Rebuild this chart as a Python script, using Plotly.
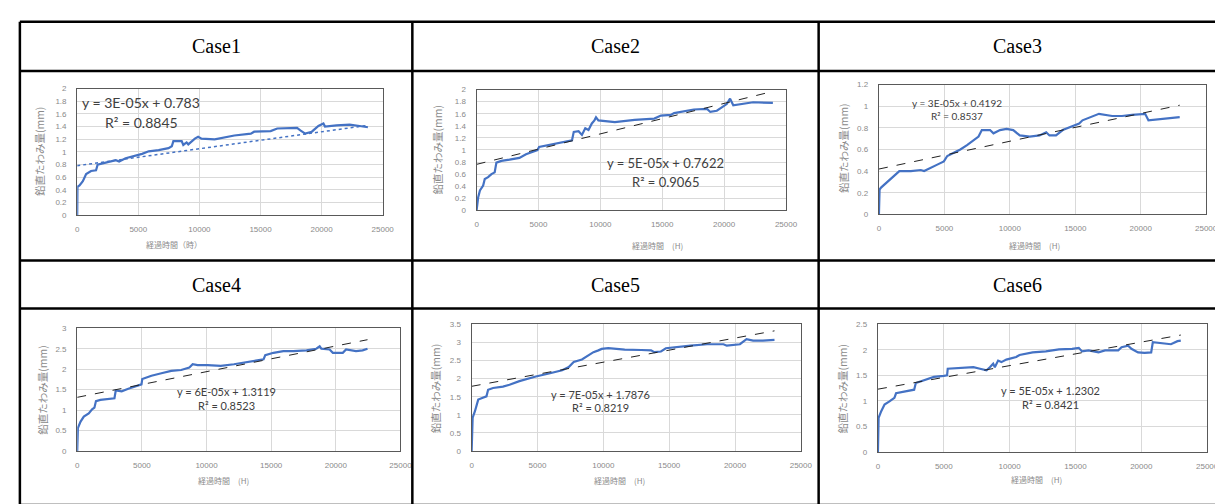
import plotly.graph_objects as go

W, H = 1223, 504

# ---------------- data (hours, mm) ----------------
case_names = ["Case1", "Case2", "Case3", "Case4", "Case5", "Case6"]

t1 = [0, 20, 190, 460, 730, 1130, 1540, 1670, 2080, 2620, 3160, 3430, 3960, 5310, 5850, 6660, 7470, 7740,
      7870, 8550, 8680, 8950, 9090, 9630, 9900, 10170, 11250, 12860, 14210, 14480, 15830, 16370, 17990,
      18260, 18660, 19200, 19740, 20150, 20280, 21220, 22300, 23110, 23790]
d1 = [0, 0.45, 0.47, 0.54, 0.65, 0.70, 0.71, 0.80, 0.82, 0.84, 0.87, 0.85, 0.90, 0.97, 1.01, 1.03, 1.06, 1.09,
      1.17, 1.17, 1.11, 1.15, 1.12, 1.21, 1.24, 1.21, 1.20, 1.26, 1.29, 1.32, 1.33, 1.37, 1.38,
      1.34, 1.29, 1.32, 1.41, 1.45, 1.40, 1.42, 1.43, 1.41, 1.39]

t2 = [0, 130, 270, 530, 660, 930, 1200, 1460, 1600, 2000, 2660, 3190, 3460, 3990, 4920, 5050, 5850, 6650,
      7180, 7710, 7850, 8240, 8510, 8780, 9040, 9310, 9520, 9650, 9840, 11170, 12770, 14360, 14890, 15690,
      15960, 17550, 18620, 18880, 19410, 20210, 20480, 20740, 22340, 23940]
d2 = [0, 0.22, 0.33, 0.41, 0.52, 0.55, 0.60, 0.63, 0.79, 0.82, 0.84, 0.86, 0.87, 0.93, 1.00, 1.05, 1.08, 1.12,
      1.14, 1.16, 1.30, 1.31, 1.25, 1.36, 1.33, 1.44, 1.49, 1.54, 1.49, 1.46, 1.50, 1.52, 1.57, 1.58,
      1.61, 1.67, 1.68, 1.63, 1.65, 1.76, 1.85, 1.74, 1.79, 1.78]

t3 = [0, 50, 180, 550, 930, 1310, 1560, 2440, 3200, 3450, 3830, 4460, 4960, 5220, 5720, 6220, 6730, 7230,
      7610, 7860, 8490, 8750, 9250, 9750, 10260, 10760, 11520, 12270, 12780, 13030, 13530, 14040, 14670,
      15300, 15550, 16310, 16810, 17820, 18570, 19330, 20340, 20590, 21600, 22350, 22980]
d3 = [0, 0.23, 0.25, 0.29, 0.34, 0.38, 0.40, 0.40, 0.41, 0.40, 0.42, 0.46, 0.49, 0.54, 0.57, 0.60, 0.64, 0.69,
      0.72, 0.78, 0.78, 0.75, 0.78, 0.79, 0.78, 0.73, 0.72, 0.73, 0.76, 0.73, 0.73, 0.78, 0.81,
      0.84, 0.87, 0.91, 0.93, 0.91, 0.91, 0.92, 0.93, 0.87, 0.88, 0.89, 0.90]

t4 = [0, 50, 260, 510, 890, 1150, 1330, 1450, 1790, 2680, 2880, 2980, 3440, 3950, 4590, 4970, 5030, 5740,
      6510, 7270, 8040, 8670, 8930, 9310, 10080, 11100, 12120, 13650, 14410, 14540, 15180, 15940, 16710,
      17730, 18490, 18750, 18880, 19520, 19770, 20540, 20790, 21560, 22070, 22450]
d4 = [0, 0.56, 0.72, 0.84, 0.92, 1.02, 1.06, 1.22, 1.25, 1.27, 1.29, 1.48, 1.46, 1.52, 1.58, 1.63, 1.76, 1.84,
      1.90, 1.96, 1.98, 2.04, 2.12, 2.10, 2.10, 2.08, 2.12, 2.20, 2.24, 2.34, 2.40, 2.44, 2.44,
      2.46, 2.50, 2.56, 2.50, 2.48, 2.40, 2.40, 2.48, 2.44, 2.46, 2.50]

t5 = [0, 75, 250, 375, 500, 750, 1125, 1250, 1625, 2375, 2875, 3625, 4875, 5875, 6875, 7375, 7750, 8375,
      8875, 9250, 9625, 9875, 10375, 11625, 12875, 13625, 13875, 14375, 14750, 15375, 16625, 17875, 19125,
      19375, 20375, 20875, 21375, 22125, 23000]
d5 = [0, 0.92, 1.10, 1.28, 1.42, 1.46, 1.51, 1.69, 1.74, 1.78, 1.83, 1.93, 2.06, 2.14, 2.23, 2.32, 2.46, 2.53,
      2.64, 2.73, 2.78, 2.82, 2.84, 2.80, 2.79, 2.78, 2.73, 2.75, 2.84, 2.87, 2.91, 2.95, 2.95,
      2.91, 2.95, 3.09, 3.05, 3.05, 3.07]

t6 = [0, 50, 250, 500, 875, 1250, 1375, 1750, 2500, 2750, 2875, 3500, 4250, 5000, 5250, 5300, 6250, 7250,
      7750, 8250, 8500, 8750, 8875, 9125, 9375, 9750, 10500, 10750, 11750, 12750, 13750, 14750, 15250,
      15500, 16000, 16750, 17250, 18250, 18500, 19000, 19250, 19750, 20250, 20750, 20875, 21500, 22250,
      22750, 23000]
d6 = [0, 0.67, 0.80, 0.93, 0.99, 1.06, 1.15, 1.17, 1.20, 1.22, 1.35, 1.41, 1.47, 1.49, 1.50, 1.63, 1.64, 1.66,
      1.63, 1.60, 1.66, 1.73, 1.66, 1.79, 1.76, 1.81, 1.86, 1.90, 1.95, 1.97, 2.01, 2.02, 2.04,
      1.97, 1.99, 1.95, 1.99, 1.99, 2.05, 2.08, 2.02, 1.95, 1.94, 1.95, 2.15, 2.13, 2.11,
      2.17, 2.18]

# linear trendlines: [x_start, x_end], [y_start, y_end]
trend_x = [[0, 23790], [0, 23940], [0, 22980], [0, 22450], [0, 23000], [0, 23000]]
trend_y = [[0.783, 1.42], [0.7622, 1.97], [0.4192, 1.01], [1.3119, 2.72], [1.7876, 3.32], [1.2302, 2.29]]

equations = ["y = 3E-05x + 0.783", "y = 5E-05x + 0.7622", "y = 3E-05x + 0.4192",
             "y = 6E-05x + 1.3119", "y = 7E-05x + 1.7876", "y = 5E-05x + 1.2302"]
r2_texts = ["R² = 0.8845", "R² = 0.9065", "R² = 0.8537", "R² = 0.8523", "R² = 0.8219", "R² = 0.8421"]

y_max = [2, 2, 1.2, 3, 3.5, 2.5]
y_step = [0.2, 0.2, 0.2, 0.5, 0.5, 0.5]
x_max = 25000
x_step = 5000

x_titles = ["経過時間（時）", "経過時間　(H)", "経過時間　(H)", "経過時間　(H)", "経過時間　(H)", "経過時間　(H)"]
y_title = "鉛直たわみ量(mm)"

times = [t1, t2, t3, t4, t5, t6]
defl = [d1, d2, d3, d4, d5, d6]

# ---------------- layout geometry (pixels) ----------------
def px(x):
    return x / W

def py(y):
    return 1 - y / H

# plot frames: left, right, top, bottom
frames = [(68, 377, 78, 207), (472, 785, 79, 202), (879, 1210, 74, 206),
          (68, 395, 322, 447), (467, 800, 318, 447), (878, 1211, 318, 448)]
# equation positions (center x, y of line 1, y of line 2), font size
eq_pos = [(133, 92, 112, 14), (663, 154, 173, 13), (958, 93, 106, 10),
          (219, 386, 401, 11), (597, 389, 403, 11), (1053, 385, 400, 11)]
xt_pos = [(166, 237), (655, 238), (1036, 238), (216, 477), (617, 477), (1038, 476)]
yt_pos = [(30, 142), (432, 140), (843, 138), (32, 385), (430, 383), (842, 383)]

col_x = [10, 407, 818, 1221]
row_y = [10, 60, 253, 302, 502]

fig = go.Figure()
layout = dict(width=W, height=H, margin=dict(l=0, r=0, t=0, b=0),
              paper_bgcolor="white", plot_bgcolor="white", showlegend=False)

annotations = []
shapes = []

CJK = "Noto Sans CJK JP"
EQF = "Lato"

for i in range(6):
    k = "" if i == 0 else str(i + 1)
    xa, ya = "x" + k, "y" + k
    L, R, T, B = frames[i]
    fig.add_trace(go.Scatter(x=times[i], y=defl[i], mode="lines", xaxis=xa, yaxis=ya,
                             line=dict(color="#4472C4", width=2.2), hoverinfo="skip"))
    if i == 0:
        tl = dict(color="#4472C4", width=1.5, dash="dot")
    else:
        tl = dict(color="#222222", width=1, dash="dash")
    fig.add_trace(go.Scatter(x=trend_x[i], y=trend_y[i], mode="lines", xaxis=xa, yaxis=ya,
                             line=tl, hoverinfo="skip"))
    common = dict(showline=True, linecolor="#595959", linewidth=1.2, mirror=True,
                  showgrid=True, gridcolor="#d9d9d9", gridwidth=1, zeroline=False,
                  tickfont=dict(family="Liberation Sans", size=8, color="#8a8a8a"),
                  ticks="", fixedrange=True)
    layout["xaxis" + k] = dict(domain=[px(L), px(R)], anchor=ya, range=[0, x_max], dtick=x_step,
                               tick0=0, tickformat="d", ticklabelstandoff=6, **common)
    layout["yaxis" + k] = dict(domain=[py(B), py(T)], anchor=xa, range=[0, y_max[i]], dtick=y_step[i],
                               tick0=0, ticklabelstandoff=8, **common)
    cx, y1, y2, fs = eq_pos[i]
    annotations.append(dict(x=px(cx), y=py(y1), xref="paper", yref="paper", text=equations[i],
                            showarrow=False, font=dict(family=EQF, size=fs, color="#404040"),
                            xanchor="center", yanchor="middle"))
    annotations.append(dict(x=px(cx), y=py(y2), xref="paper", yref="paper", text=r2_texts[i],
                            showarrow=False, font=dict(family=EQF, size=fs, color="#404040"),
                            xanchor="center", yanchor="middle"))
    annotations.append(dict(x=px(xt_pos[i][0]), y=py(xt_pos[i][1]), xref="paper", yref="paper",
                            text=x_titles[i], showarrow=False,
                            font=dict(family=CJK, size=8, color="#8a8a8a"),
                            xanchor="center", yanchor="middle"))
    annotations.append(dict(x=px(yt_pos[i][0]), y=py(yt_pos[i][1]), xref="paper", yref="paper",
                            text=y_title, showarrow=False, textangle=-90,
                            font=dict(family=CJK, size=10.5, color="#8a8a8a"),
                            xanchor="center", yanchor="middle"))

# header texts
for i, name in enumerate(case_names):
    c = i % 3
    r = i // 3
    cx = (col_x[c] + col_x[c + 1]) / 2
    cy = (row_y[2 * r] + row_y[2 * r + 1]) / 2
    annotations.append(dict(x=px(cx), y=py(cy), xref="paper", yref="paper", text=name,
                            showarrow=False, font=dict(family="Liberation Serif", size=20, color="black"),
                            xanchor="center", yanchor="middle"))

# table borders
for xv in col_x:
    shapes.append(dict(type="line", xref="paper", yref="paper", x0=px(xv), x1=px(xv),
                       y0=py(row_y[0]), y1=py(row_y[-1]), line=dict(color="black", width=2.5)))
for yv in row_y:
    shapes.append(dict(type="line", xref="paper", yref="paper", x0=px(col_x[0]), x1=px(col_x[-1]),
                       y0=py(yv), y1=py(yv), line=dict(color="black", width=2.5)))

layout["annotations"] = annotations
layout["shapes"] = shapes
fig.update_layout(**layout)
fig.write_html("out.html")
